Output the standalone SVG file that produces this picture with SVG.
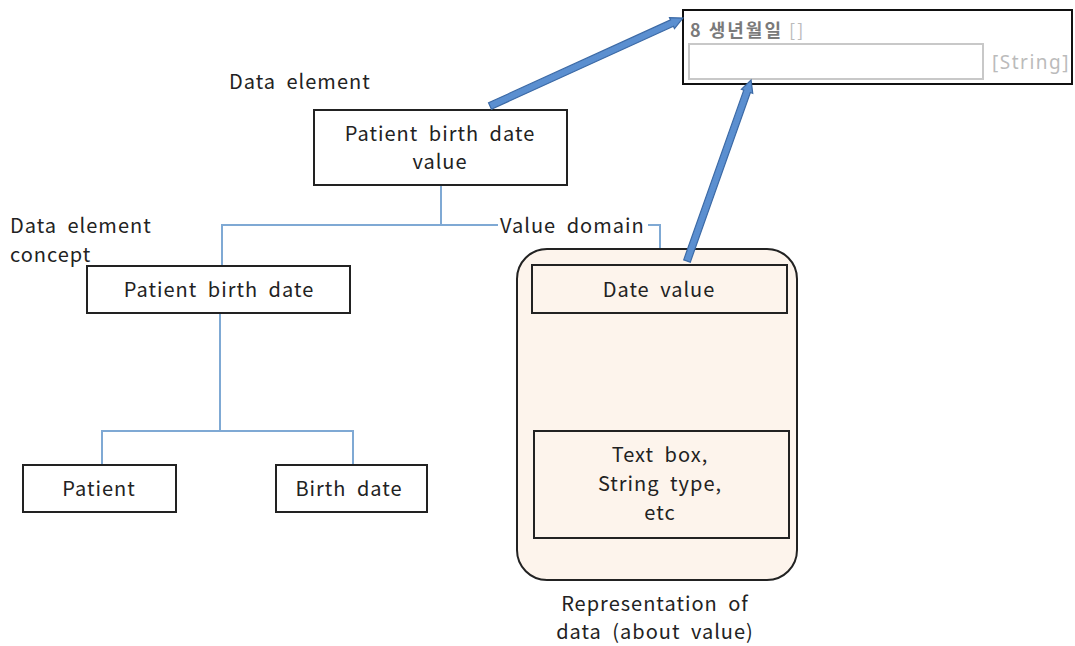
<svg xmlns="http://www.w3.org/2000/svg" width="1075" height="646" viewBox="0 0 1075 646">
<defs>
<style>
.t{font-family:"Noto Sans CJK KR","Noto Sans",sans-serif;font-size:20px;fill:#222;letter-spacing:1px;word-spacing:5px}
.box{fill:#fff;stroke:#222;stroke-width:2}
.pbox{fill:#fdf4ec;stroke:#222;stroke-width:2}
.conn{fill:none;stroke:#7fa9d4;stroke-width:2}
.arr{fill:#5b8fd0;stroke:#3c6aa6;stroke-width:1.2}
</style>
</defs>
<rect width="1075" height="646" fill="#fff"/>

<g id="form">
<rect x="683" y="10" width="389" height="74" fill="#fff" stroke="#111" stroke-width="2"/>
<text x="690" y="37" style="font-family:'Noto Sans CJK KR','Noto Sans',sans-serif;font-size:18px;fill:#7a7a7a;font-weight:bold;letter-spacing:2px">8 생년월일 <tspan fill="#bbb" font-weight="normal">[]</tspan></text>
<rect x="689" y="44" width="294" height="35" fill="#fff" stroke="#c8c8c8" stroke-width="2"/>
<text x="992" y="69" style="font-family:'Noto Sans','Noto Sans CJK KR',sans-serif;font-size:19px;fill:#bbb;letter-spacing:1.5px">[String]</text>
</g>

<g id="connectors">
<polyline class="conn" points="441,185 441,225"/>
<polyline class="conn" points="222,266 222,225 660,225 660,266"/>
<polyline class="conn" points="220,313 220,431"/>
<polyline class="conn" points="102,465 102,431 353,431 353,465"/>
<polyline class="conn" points="660,313 660,431"/>
</g>

<g id="valuedomain-container">
<rect x="517" y="249" width="280" height="331" rx="30" ry="30" class="pbox"/>
</g>

<g id="labels">
<text class="t" x="229" y="89">Data element</text>
<text class="t" x="10" y="233">Data element</text>
<text class="t" x="10" y="262">concept</text>
<rect x="498" y="213" width="150" height="24" fill="#fff"/>
<text class="t" x="500" y="233">Value domain</text>
<text class="t" x="655" y="611" text-anchor="middle">Representation of</text>
<text class="t" x="655" y="639" text-anchor="middle">data (about value)</text>
</g>

<g id="data-element">
<rect x="314" y="110" width="253" height="75" class="box"/>
<text class="t" x="440" y="141" text-anchor="middle">Patient birth date</text>
<text class="t" x="440" y="169" text-anchor="middle">value</text>
</g>

<g id="dec">
<rect x="87" y="266" width="263" height="47" class="box"/>
<text class="t" x="219" y="297" text-anchor="middle">Patient birth date</text>
</g>

<g id="patient">
<rect x="23" y="465" width="153" height="47" class="box"/>
<text class="t" x="99" y="496" text-anchor="middle">Patient</text>
</g>

<g id="birthdate">
<rect x="276" y="465" width="151" height="47" class="box"/>
<text class="t" x="349" y="496" text-anchor="middle">Birth date</text>
</g>

<g id="datevalue">
<rect x="532" y="265" width="255" height="48" class="pbox"/>
<text class="t" x="659" y="297" text-anchor="middle">Date value</text>
</g>

<g id="representation">
<rect x="534" y="431" width="255" height="107" class="pbox"/>
<text class="t" x="660" y="462" text-anchor="middle">Text box,</text>
<text class="t" x="660" y="491" text-anchor="middle">String type,</text>
<text class="t" x="660" y="520" text-anchor="middle">etc</text>
</g>

<g id="arrows">
<polygon class="arr" transform="translate(490,106) rotate(-24.5)" points="0,-3.5 200,-3.5 200,-6 212,0 200,6 200,3.5 0,3.5"/>
<polygon class="arr" transform="translate(687,261) rotate(-70.5)" points="0,-3.5 180,-3.5 180,-6 192,0 180,6 180,3.5 0,3.5"/>
</g>
</svg>
